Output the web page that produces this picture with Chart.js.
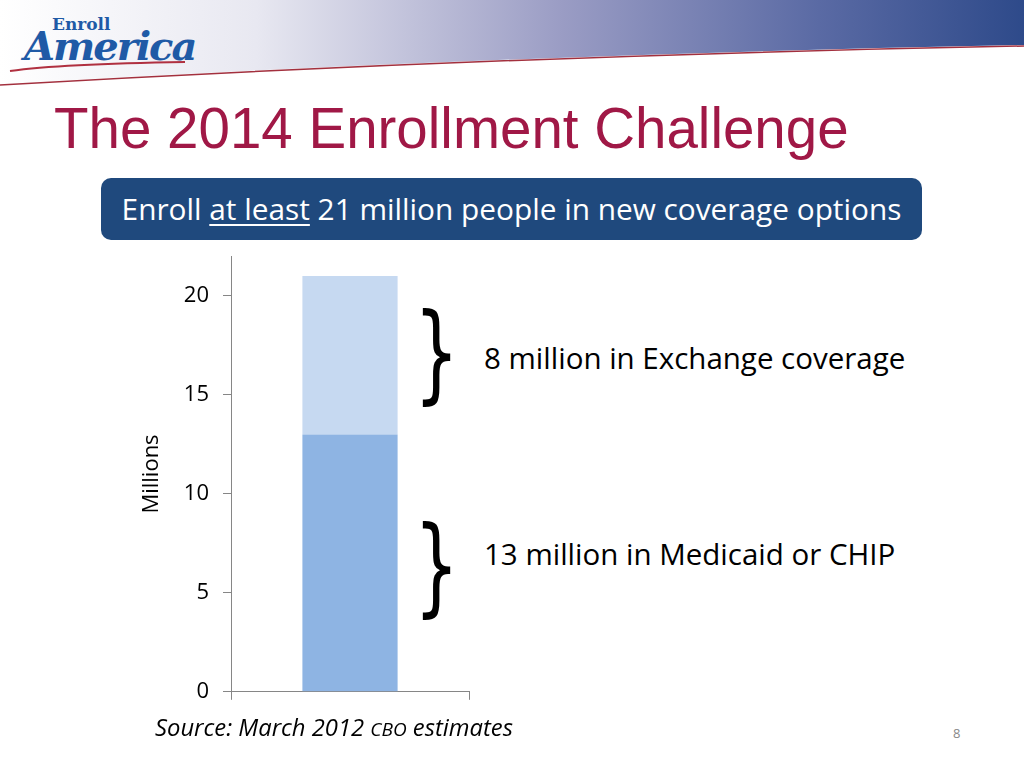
<!DOCTYPE html>
<html lang="en">
<head>
<meta charset="UTF-8">
<title>The 2014 Enrollment Challenge</title>
<script src="https://cdn.jsdelivr.net/npm/chart.js"></script>
<style>
    html, body { margin: 0; padding: 0; }
    body { width: 1024px; height: 768px; position: relative; overflow: hidden; background: #fff; font-family: "Open Sans", sans-serif; }
    .banda { position: absolute; left: 0; top: 0; }
    .logo1 { position: absolute; left: 52px; top: 14px; font: bold 17px "DejaVu Serif", serif; color: #1f5aa6; }
    .logo2 { position: absolute; left: 24px; top: 22px; font: italic bold 40px "DejaVu Serif", serif; color: #1f5aa6; letter-spacing: -2px; }
    .titulo { position: absolute; left: 54px; top: 96px; font: 56.5px "Liberation Sans", Arial, sans-serif; color: #a01846; white-space: nowrap; }
    .caixa { position: absolute; left: 101px; top: 178px; width: 821px; height: 62px; background: #1f497d; border-radius: 10px;
             color: #fff; font-size: 29.8px; text-align: center; line-height: 62px; white-space: nowrap; }
    .caixa u { text-decoration-thickness: 2px; text-underline-offset: 4px; }
    .chave { position: absolute; font-size: 92px; line-height: 1; font-family: "DejaVu Sans", sans-serif; transform-origin: 0 0; transform: scale(0.77, 1.17); }
    .nota { position: absolute; font-size: 29.5px; white-space: nowrap; color: #000; }
    .fonte { position: absolute; left: 155px; top: 711px; font-size: 23.8px; font-style: italic; white-space: nowrap; }
    .fonte small { font-size: 19px; }
    .pagina { position: absolute; left: 953px; top: 724px; font-size: 13px; color: #888; }
    #grafico { position: absolute; left: 128px; top: 229px; }
</style>
</head>
<body>

<svg class="banda" width="1024" height="100">
    <defs>
        <linearGradient id="grad" x1="0" y1="0" x2="1" y2="0">
            <stop offset="0" stop-color="#ffffff"/>
            <stop offset="0.25" stop-color="#e8e8f1"/>
            <stop offset="0.55" stop-color="#9a9cc4"/>
            <stop offset="0.8" stop-color="#5a6aa4"/>
            <stop offset="1" stop-color="#2e4a8a"/>
        </linearGradient>
    </defs>
    <path d="M0,0 L1024,0 L1024,45 Q500,55 0,84 Z" fill="url(#grad)"/>
    <path d="M0,85 Q500,56 1024,46" fill="none" stroke="#a3303e" stroke-width="1.5"/>
    <path d="M10,71 Q60,64 185,62" fill="none" stroke="#b03040" stroke-width="2"/>
</svg>
<div class="logo1">Enroll</div>
<div class="logo2">America</div>
<div class="titulo">The 2014 Enrollment Challenge</div>
<div class="caixa">Enroll <u>at least</u> 21 million people in new coverage options</div>

<canvas id="grafico" width="347" height="490"></canvas>

<div class="chave" style="left:414px; top:299px;">}</div>
<div class="nota" style="left:484px; top:337px;">8 million in Exchange coverage</div>
<div class="chave" style="left:414px; top:512px;">}</div>
<div class="nota" style="left:484px; top:533px;">13 million in Medicaid or CHIP</div>

<div class="fonte">Source: March 2012 <small>CBO</small> estimates</div>
<div class="pagina">8</div>

<script>
    // dados (milhões)
    const categorias = [''];
    const medicaid = [13];
    const exchange = [8];
    const ticksY = [0, 5, 10, 15, 20];

    const ctx = document.getElementById('grafico');
    new Chart(ctx, {
        type: 'bar',
        data: {
            labels: categorias,
            datasets: [
                { label: 'Medicaid or CHIP', data: medicaid, backgroundColor: '#8eb4e3', barPercentage: 0.4, categoryPercentage: 1 },
                { label: 'Exchange', data: exchange, backgroundColor: '#c6d9f1', barPercentage: 0.4, categoryPercentage: 1 }
            ]
        },
        options: {
            responsive: false,
            animation: false,
            layout: { padding: { top: 10, right: 6, left: 0, bottom: 0 } },
            plugins: { legend: { display: false }, tooltip: { enabled: false } },
            scales: {
                x: {
                    stacked: true,
                    grid: { drawOnChartArea: false, drawTicks: true, tickLength: 8, color: '#868686', offset: true },
                    border: { display: true, color: '#868686' },
                    ticks: { display: false },
                    afterFit: function (s) { s.height = 13; }
                },
                y: {
                    stacked: true,
                    min: 0,
                    max: 22,
                    afterBuildTicks: function (s) { s.ticks = ticksY.map(v => ({ value: v })); },
                    grid: { drawOnChartArea: false, drawTicks: true, tickLength: 8, color: '#868686' },
                    border: { display: true, color: '#868686' },
                    ticks: { color: '#000', font: { family: 'Open Sans', size: 22 }, padding: 14 },
                    title: { display: true, text: 'Millions', color: '#000', font: { family: 'Open Sans', size: 22 }, padding: { top: 11, bottom: 0 } },
                    afterFit: function (s) { s.width = 103; }
                }
            }
        }
    });
</script>
</body>
</html>
